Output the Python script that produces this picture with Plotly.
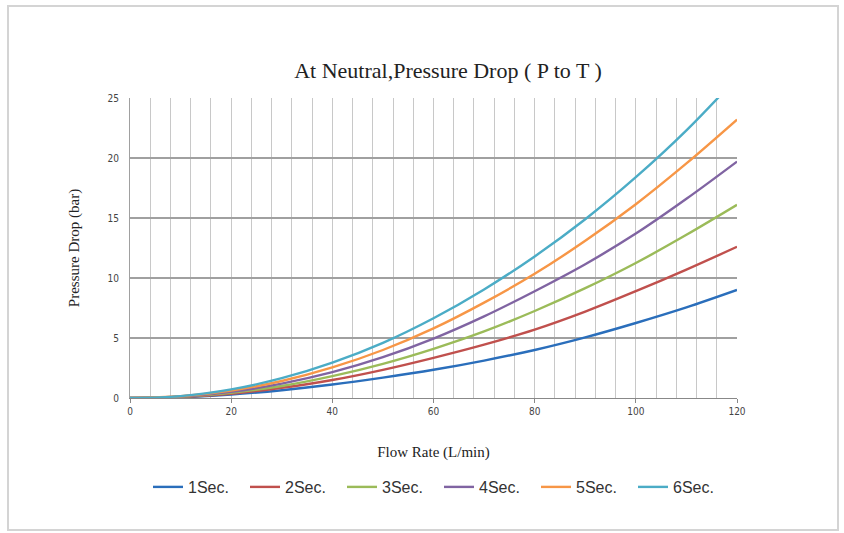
import plotly.graph_objects as go

flow = [0, 10, 20, 30, 40, 50, 60, 70, 80, 90, 100, 110, 120]
sec1 = [0, 0.06, 0.28, 0.65, 1.12, 1.7, 2.35, 3.12, 4.0, 5.05, 6.25, 7.55, 9.0]
sec2 = [0, 0.08, 0.36, 0.85, 1.5, 2.35, 3.35, 4.45, 5.7, 7.2, 8.9, 10.7, 12.6]
sec3 = [0, 0.1, 0.44, 1.0, 1.82, 2.85, 4.1, 5.55, 7.25, 9.15, 11.25, 13.6, 16.1]
sec4 = [0, 0.12, 0.52, 1.2, 2.15, 3.4, 4.95, 6.8, 8.9, 11.15, 13.7, 16.6, 19.7]
sec5 = [0, 0.14, 0.62, 1.42, 2.55, 4.0, 5.8, 7.95, 10.35, 13.1, 16.15, 19.55, 23.2]
sec6 = [0, 0.16, 0.72, 1.65, 2.95, 4.6, 6.65, 9.05, 11.8, 14.9, 18.4, 22.3, 26.7]
names = ["1Sec.", "2Sec.", "3Sec.", "4Sec.", "5Sec.", "6Sec."]
colors = ["#2a6ebb", "#c0504d", "#9bbb59", "#8064a2", "#f79646", "#4bacc6"]
series = [sec1, sec2, sec3, sec4, sec5, sec6]

W, H = 844, 533
L, R, T, B = 130, 107, 98, 135
pw, ph = W - L - R, H - T - B

fig = go.Figure()
for n, c, s in zip(names, colors, series):
    fig.add_trace(go.Scatter(x=flow, y=s, name=n, mode="lines",
                             line=dict(color=c, width=2.4, shape="spline", smoothing=1.0)))

def px2paper(x, y):
    return (x - L) / pw, (H - B - y) / ph

x0, y0 = px2paper(8, 6)
x1, y1 = px2paper(838, 530)
fig.add_shape(type="rect", xref="paper", yref="paper", x0=x0, y0=y1, x1=x1, y1=y0,
              line=dict(color="#d4d4d4", width=2), layer="below")

fig.update_layout(
    width=W, height=H,
    margin=dict(l=L, r=R, t=T, b=B, autoexpand=False),
    paper_bgcolor="white", plot_bgcolor="white",
    title=dict(text="At Neutral,Pressure Drop ( P to T )", x=448 / W, xanchor="center",
               y=1 - 70 / H, yanchor="middle",
               font=dict(family="Liberation Serif", size=22, color="#222222")),
    xaxis=dict(range=[0, 120], dtick=20, showgrid=True, gridcolor="#c8c8c8", gridwidth=1,
               minor=dict(dtick=4, showgrid=True, gridcolor="#c8c8c8", gridwidth=1),
               showline=True, linecolor="#888888", linewidth=1,
               ticks="outside", ticklen=4, tickcolor="#888888",
               tickfont=dict(family="DejaVu Sans Condensed, Liberation Sans Narrow", size=10, color="#444444"),
               zeroline=False,
               title=dict(text="Flow Rate (L/min)", standoff=30,
                          font=dict(family="Liberation Serif", size=15, color="#222222"))),
    yaxis=dict(range=[0, 25], dtick=5, showgrid=True, gridcolor="#a0a0a0", gridwidth=1.5,
               showline=True, linecolor="#a0a0a0", linewidth=1, zeroline=False,
               ticks="", ticklabelstandoff=8,
               tickfont=dict(family="DejaVu Sans Condensed, Liberation Sans Narrow", size=10, color="#444444"),
               title=dict(text="Pressure Drop (bar)", standoff=24,
                          font=dict(family="Liberation Serif", size=15, color="#222222"))),
    legend=dict(orientation="h", x=(439 - L) / pw, xanchor="center", y=(H - B - 487) / ph,
                yanchor="middle", entrywidth=52, entrywidthmode="pixels",
                font=dict(family="Liberation Sans", size=16, color="#333333"),
                bgcolor="rgba(0,0,0,0)"),
    showlegend=True,
)
fig.write_html("out.html", config={"displayModeBar": False},
               post_script="document.body.style.margin='0';document.body.style.overflow='hidden';")
